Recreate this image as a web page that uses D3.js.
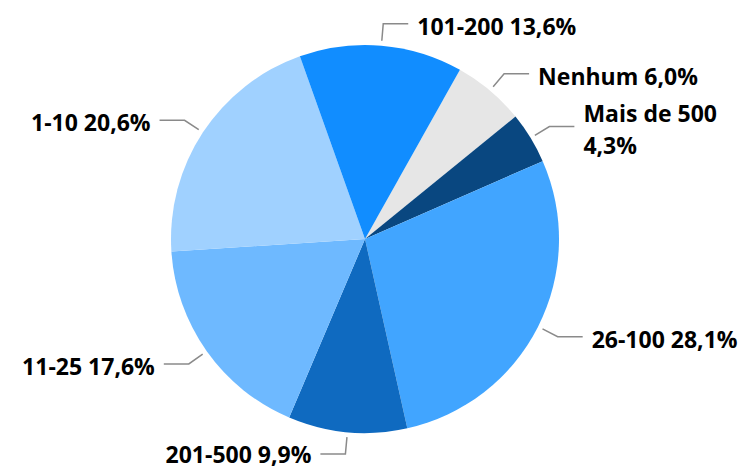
<!DOCTYPE html>
<html>
<head>
<meta charset="utf-8">
<script src="https://cdn.jsdelivr.net/npm/d3@7"></script>
<style>
  body { margin: 0; background: #fff; }
  svg { display: block; }
</style>
</head>
<body>
<div id="chart"></div>
<script>
// data, clockwise from the top right
var categories = ["Nenhum", "Mais de 500", "26-100", "201-500", "11-25", "1-10", "101-200"]
var values = [6.0, 4.3, 28.1, 9.9, 17.6, 20.6, 13.6]
var labels = ["6,0%", "4,3%", "28,1%", "9,9%", "17,6%", "20,6%", "13,6%"]
var colors = ["#E6E6E6", "#094780", "#41A5FF", "#0F6AC0", "#6EB9FF", "#A0D1FF", "#118DFF"]

var width = 750, height = 470
var cx = 365, cy = 239
var radius = 194

var svg = d3.select("#chart")
  .append("svg")
  .attr("width", width)
  .attr("height", height)

var g = svg.append("g")
  .attr("transform", "translate(" + cx + "," + cy + ")")

var color = d3.scaleOrdinal()
  .domain(categories)
  .range(colors)

var start = 29.3 * Math.PI / 180
var pie = d3.pie()
  .sort(null)
  .startAngle(start)
  .endAngle(start + 2 * Math.PI)
  .value(function(d) { return d.value })

var data_ready = pie(categories.map(function(c, i) {
  return { key: c, value: values[i], label: labels[i] }
}))

var arc = d3.arc()
  .innerRadius(0)
  .outerRadius(radius)

g.selectAll("path.slice")
  .data(data_ready)
  .enter()
  .append("path")
  .attr("class", "slice")
  .attr("d", arc)
  .attr("fill", function(d) { return color(d.data.key) })

// leader lines: start just outside the pie, bend, then go sideways
function mid(d) { return (d.startAngle + d.endAngle) / 2 }
function polar(r, a) { return [r * Math.sin(a), -r * Math.cos(a)] }
var norm = function(a) { return ((a % (2 * Math.PI)) + 2 * Math.PI) % (2 * Math.PI) }

g.selectAll("polyline")
  .data(data_ready)
  .enter()
  .append("polyline")
  .attr("fill", "none")
  .attr("stroke", "#8a8a8a")
  .attr("stroke-width", 1.5)
  .attr("points", function(d) {
    var a = mid(d)
    var p1 = polar(radius + 5, a)
    var p2 = polar(radius + 22, a)
    var side = norm(a) < Math.PI ? 1 : -1
    var p3 = [p2[0] + side * 25, p2[1]]
    return [p1, p2, p3]
  })

var fontSize = 23
var lab = g.selectAll("text.lab")
  .data(data_ready)
  .enter()
  .append("text")
  .attr("class", "lab")
  .attr("font-family", "'Open Sans', 'Noto Sans', sans-serif")
  .attr("font-weight", "bold")
  .attr("font-size", fontSize)
  .attr("fill", "#000")
  .each(function(d) {
    var a = mid(d)
    var p2 = polar(radius + 22, a)
    var side = norm(a) < Math.PI ? 1 : -1
    var x = p2[0] + side * 34
    var y = p2[1]
    // keep the baseline inside the frame
    var dy = Math.min(11, height - 7 - cy - y)
    var t = d3.select(this)
      .attr("text-anchor", side > 0 ? "start" : "end")
    var full = d.data.key + " " + d.data.label
    t.append("tspan").attr("x", x).attr("y", y).attr("dy", dy).text(full)
    // wrap onto two lines when the label runs past the right edge
    var w = this.getComputedTextLength()
    if (side > 0 && cx + x + w > width - 4) {
      t.selectAll("tspan").remove()
      t.append("tspan").attr("x", x).attr("y", y).attr("dy", -5).text(d.data.key)
      t.append("tspan").attr("x", x).attr("y", y).attr("dy", 27).text(d.data.label)
    }
  })
</script>
</body>
</html>
